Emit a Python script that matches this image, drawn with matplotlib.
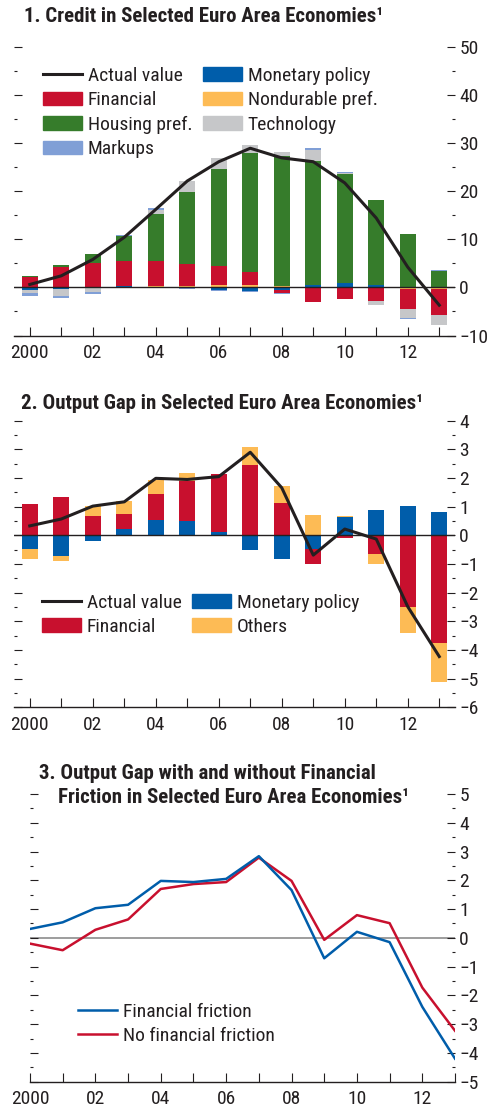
import os
import numpy as np
import matplotlib
matplotlib.use('Agg')
import matplotlib.pyplot as plt
from matplotlib import font_manager
from matplotlib.ticker import MultipleLocator
from matplotlib.patches import Patch
from matplotlib.lines import Line2D

# police etroite si disponible (le graphique d'origine est en Univers Condensed)
cond = None
for pref in ['liberation sans narrow', 'roboto condensed', 'open sans condensed', 'dejavu sans condensed',
             'noto sans condensed', 'narrow', 'condensed']:
    for f in font_manager.fontManager.ttflist:
        key = (f.name + ' ' + os.path.basename(f.fname)).lower()
        if 'mono' in key or ('serif' in key and 'sans' not in key):
            continue
        if pref in key or (pref in ('narrow', 'condensed') and f.stretch in ('condensed', 'semi-condensed')):
            cond = f
            break
    if cond is not None:
        break

if cond is not None:
    plt.rcParams['font.family'] = [cond.name, 'DejaVu Sans']
    plt.rcParams['font.stretch'] = cond.stretch
    FS, TFS = 14, 15
else:
    plt.rcParams['font.family'] = ['Liberation Sans', 'DejaVu Sans']
    FS, TFS = 11.5, 12

# couleurs
RED = '#C8102E'
BLUE = '#005DAA'
GREEN = '#367C2B'
YELLOW = '#FDBB55'
GRAY = '#C6C7C9'
LBLUE = '#809FD6'
INK = '#231F20'

years = np.arange(2000, 2014)
xlabels = ['2000', '', '02', '', '04', '', '06', '', '08', '', '10', '', '12', '']

# panel 1 : credit
credit_monetary = [-0.5, -0.3, 0, 0.3, 0, 0, -0.55, -0.7, -0.55, 0.4, 0.9, 0.4, 0, 0]
credit_nondurable = [0, 0, 0, 0, 0.3, 0.3, 0.4, 0.4, 0.2, 0, 0, 0, -0.35, -0.35]
credit_financial = [2.1, 4.2, 5.1, 5.2, 5.2, 4.5, 4.0, 2.7, -0.7, -3.05, -2.5, -2.9, -4.2, -5.3]
credit_housing = [0.2, 0.4, 1.9, 5.2, 9.7, 15.0, 20.2, 24.8, 27.1, 25.8, 22.6, 17.7, 11.0, 3.3]
credit_technology = [-0.75, -1.4, -1.0, 0, 0.9, 2.3, 2.2, 1.6, 0.8, 2.3, 0.2, -0.8, -1.9, -2.1]
credit_markups = [-0.55, -0.6, -0.4, 0.2, 0.35, -0.3, -0.2, -0.2, -0.2, 0.4, 0.2, 0, -0.2, 0.4]
credit_actual = [0.6, 2.4, 5.8, 10.4, 16.2, 22.1, 26.1, 28.9, 26.9, 26.1, 21.7, 14.4, 4.2, -3.7]

# panel 2 : output gap
gap_monetary = [-0.48, -0.72, -0.2, 0.22, 0.55, 0.5, 0.12, -0.51, -0.83, -0.48, 0.63, 0.88, 1.02, 0.81]
gap_financial = [1.09, 1.34, 0.67, 0.52, 0.9, 1.4, 2.02, 2.47, 1.13, -0.52, -0.09, -0.65, -2.5, -3.76]
gap_others = [-0.34, -0.16, 0.37, 0.45, 0.49, 0.28, 0, 0.63, 0.59, 0.71, 0.05, -0.35, -0.9, -1.36]
gap_actual = [0.33, 0.57, 1.02, 1.17, 1.99, 1.95, 2.05, 2.9, 1.66, -0.69, 0.22, -0.13, -2.49, -4.23]

# panel 3 : avec / sans friction financiere
fin_friction = [0.31, 0.54, 1.03, 1.15, 1.98, 1.94, 2.05, 2.84, 1.66, -0.71, 0.21, -0.15, -2.4, -4.2]
no_friction = [-0.2, -0.43, 0.28, 0.64, 1.7, 1.87, 1.94, 2.79, 1.98, -0.07, 0.79, 0.51, -1.73, -3.23]


def stack(ax, series, colors):
    pos = np.zeros(len(years))
    neg = np.zeros(len(years))
    for vals, c in zip(series, colors):
        v = np.array(vals, dtype=float)
        b = np.where(v >= 0, pos, neg)
        ax.bar(years, v, bottom=b, width=0.5, color=c, linewidth=0, zorder=2)
        pos = pos + np.where(v >= 0, v, 0)
        neg = neg + np.where(v < 0, v, 0)


def style(ax, ylo, yhi, major, minor, xlo, xhi):
    ax.set_xlim(xlo, xhi)
    ax.set_ylim(ylo, yhi)
    for s in ['left', 'right', 'top']:
        ax.spines[s].set_visible(False)
    ax.spines['bottom'].set_color(INK)
    ax.spines['bottom'].set_linewidth(1.0)
    ax.yaxis.set_major_locator(MultipleLocator(major))
    ax.yaxis.set_minor_locator(MultipleLocator(minor))
    ax.tick_params(axis='y', which='both', direction='in', left=True, right=True,
                   labelleft=False, labelright=True, colors=INK, labelcolor=INK,
                   labelsize=FS, pad=3, width=0.8)
    ax.tick_params(axis='y', which='major', length=5.5)
    ax.tick_params(axis='y', which='minor', length=2.5)
    ax.set_xticks(years)
    ax.set_xticklabels(xlabels)
    ax.tick_params(axis='x', direction='in', length=6.5, width=0.8, colors=INK,
                   labelsize=FS, pad=6)


fig = plt.figure(figsize=(4.9, 11.11), dpi=100)

# ---- panel 1
ax1 = fig.add_axes([0.0286, 0.698, 0.9, 0.26])
stack(ax1, [credit_monetary, credit_nondurable, credit_financial, credit_housing,
            credit_technology, credit_markups],
      [BLUE, YELLOW, RED, GREEN, GRAY, LBLUE])
ax1.axhline(0, color=INK, lw=1.0, zorder=3)
ax1.plot(years, credit_actual, color=INK, lw=2.2, zorder=4)
style(ax1, -10, 50, 10, 5, 1999.5, 2013.5)
h1 = [Line2D([], [], color=INK, lw=2.2), Patch(color=RED), Patch(color=GREEN), Patch(color=LBLUE),
      Patch(color=BLUE), Patch(color=YELLOW), Patch(color=GRAY)]
l1 = ['Actual value', 'Financial', 'Housing pref.', 'Markups',
      'Monetary policy', 'Nondurable pref.', 'Technology']
ax1.legend(h1, l1, ncol=2, loc='upper left', bbox_to_anchor=(0.066, 0.93), frameon=False,
           fontsize=FS, borderpad=0, borderaxespad=0, handlelength=2.0, handletextpad=0.3,
           columnspacing=0.55, labelspacing=0.33, labelcolor=INK)
fig.text(0.049, 0.985, '1. Credit in Selected Euro Area Economies¹', fontsize=TFS,
         fontweight='bold', color=INK, va='center', ha='left')

# ---- panel 2
ax2 = fig.add_axes([0.0286, 0.3634, 0.9, 0.2579])
stack(ax2, [gap_monetary, gap_financial, gap_others], [BLUE, RED, YELLOW])
ax2.axhline(0, color=INK, lw=1.0, zorder=3)
ax2.plot(years, gap_actual, color=INK, lw=2.2, zorder=4)
style(ax2, -6, 4, 1, 0.5, 1999.5, 2013.5)
h2 = [Line2D([], [], color=INK, lw=2.2), Patch(color=RED), Patch(color=BLUE), Patch(color=YELLOW)]
l2 = ['Actual value', 'Financial', 'Monetary policy', 'Others']
ax2.legend(h2, l2, ncol=2, loc='upper left', bbox_to_anchor=(0.063, 0.397), frameon=False,
           fontsize=FS, borderpad=0, borderaxespad=0, handlelength=2.0, handletextpad=0.3,
           columnspacing=0.55, labelspacing=0.33, labelcolor=INK)
fig.text(0.043, 0.637, '2. Output Gap in Selected Euro Area Economies¹', fontsize=TFS,
         fontweight='bold', color=INK, va='center', ha='left')

# ---- panel 3
ax3 = fig.add_axes([0.0612, 0.0264, 0.8674, 0.2589])
ax3.axhline(0, color='#8C8C8C', lw=1.2, zorder=1)
ax3.plot(years, fin_friction, color=BLUE, lw=1.8, zorder=3, label='Financial friction')
ax3.plot(years, no_friction, color=RED, lw=1.8, zorder=2, label='No financial friction')
style(ax3, -5, 5, 1, 0.5, 2000, 2013)
ax3.legend(loc='upper left', bbox_to_anchor=(0.113, 0.275), frameon=False, fontsize=FS,
           borderpad=0, borderaxespad=0, handlelength=2.0, handletextpad=0.3,
           labelspacing=0.33, labelcolor=INK)
fig.text(0.08, 0.304, '3. Output Gap with and without Financial', fontsize=TFS,
         fontweight='bold', color=INK, va='center', ha='left')
fig.text(0.118, 0.2825, 'Friction in Selected Euro Area Economies¹', fontsize=TFS,
         fontweight='bold', color=INK, va='center', ha='left')

fig.savefig('out.png', dpi=100)
